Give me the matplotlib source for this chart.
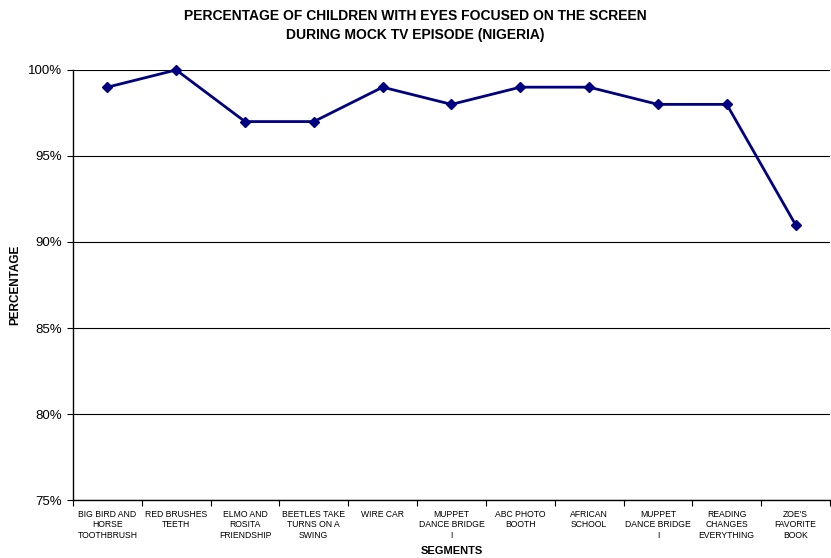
import numpy as np
import matplotlib.pyplot as plt
from matplotlib.ticker import FuncFormatter

plt.rcParams['font.family'] = ['Liberation Sans', 'DejaVu Sans']

segments = [
    "BIG BIRD AND\nHORSE\nTOOTHBRUSH",
    "RED BRUSHES\nTEETH",
    "ELMO AND\nROSITA\nFRIENDSHIP",
    "BEETLES TAKE\nTURNS ON A\nSWING",
    "WIRE CAR",
    "MUPPET\nDANCE BRIDGE\nI",
    "ABC PHOTO\nBOOTH",
    "AFRICAN\nSCHOOL",
    "MUPPET\nDANCE BRIDGE\nI",
    "READING\nCHANGES\nEVERYTHING",
    "ZOE'S\nFAVORITE\nBOOK",
]
percent_focused = [99, 100, 97, 97, 99, 98, 99, 99, 98, 98, 91]

fig = plt.figure(figsize=(8.31, 5.58), dpi=100)
ax = fig.add_axes([0.0878, 0.1039, 0.9110, 0.7707])

x = np.arange(len(segments))
ax.plot(x, percent_focused, color='#000080', linewidth=2, marker='D',
        markersize=5, zorder=3, clip_on=False)

ax.set_xlim(-0.5, len(segments) - 0.5)
ax.set_ylim(75, 100)
ax.set_yticks([75, 80, 85, 90, 95, 100])
ax.yaxis.set_major_formatter(FuncFormatter(lambda v, p: f"{v:.0f}%"))
ax.grid(axis='y', color='black', linewidth=0.8)
ax.set_axisbelow(True)

# boundaries between categories get the tick marks, labels sit in the middle
ax.set_xticks(np.arange(len(segments) + 1) - 0.5)
ax.set_xticklabels([])
ax.set_xticks(x, minor=True)
ax.set_xticklabels(segments, minor=True, fontsize=6.2, linespacing=1.25)
ax.tick_params(axis='x', which='minor', length=0, pad=7)
ax.tick_params(axis='x', which='major', length=4, width=0.8)
ax.tick_params(axis='y', length=4, width=0.8, labelsize=9.5, pad=4)

for side in ['top', 'right']:
    ax.spines[side].set_visible(False)
ax.spines['left'].set_linewidth(1)
ax.spines['bottom'].set_linewidth(1)

ax.set_xlabel('SEGMENTS', fontsize=8, fontweight='bold', labelpad=4)
ax.set_ylabel('PERCENTAGE', fontsize=8.5, fontweight='bold', labelpad=5)
fig.suptitle('PERCENTAGE OF CHILDREN WITH EYES FOCUSED ON THE SCREEN\n'
             'DURING MOCK TV EPISODE (NIGERIA)',
             fontsize=10, fontweight='bold', y=0.983, linespacing=1.4)

fig.savefig('out.png', dpi=100)
